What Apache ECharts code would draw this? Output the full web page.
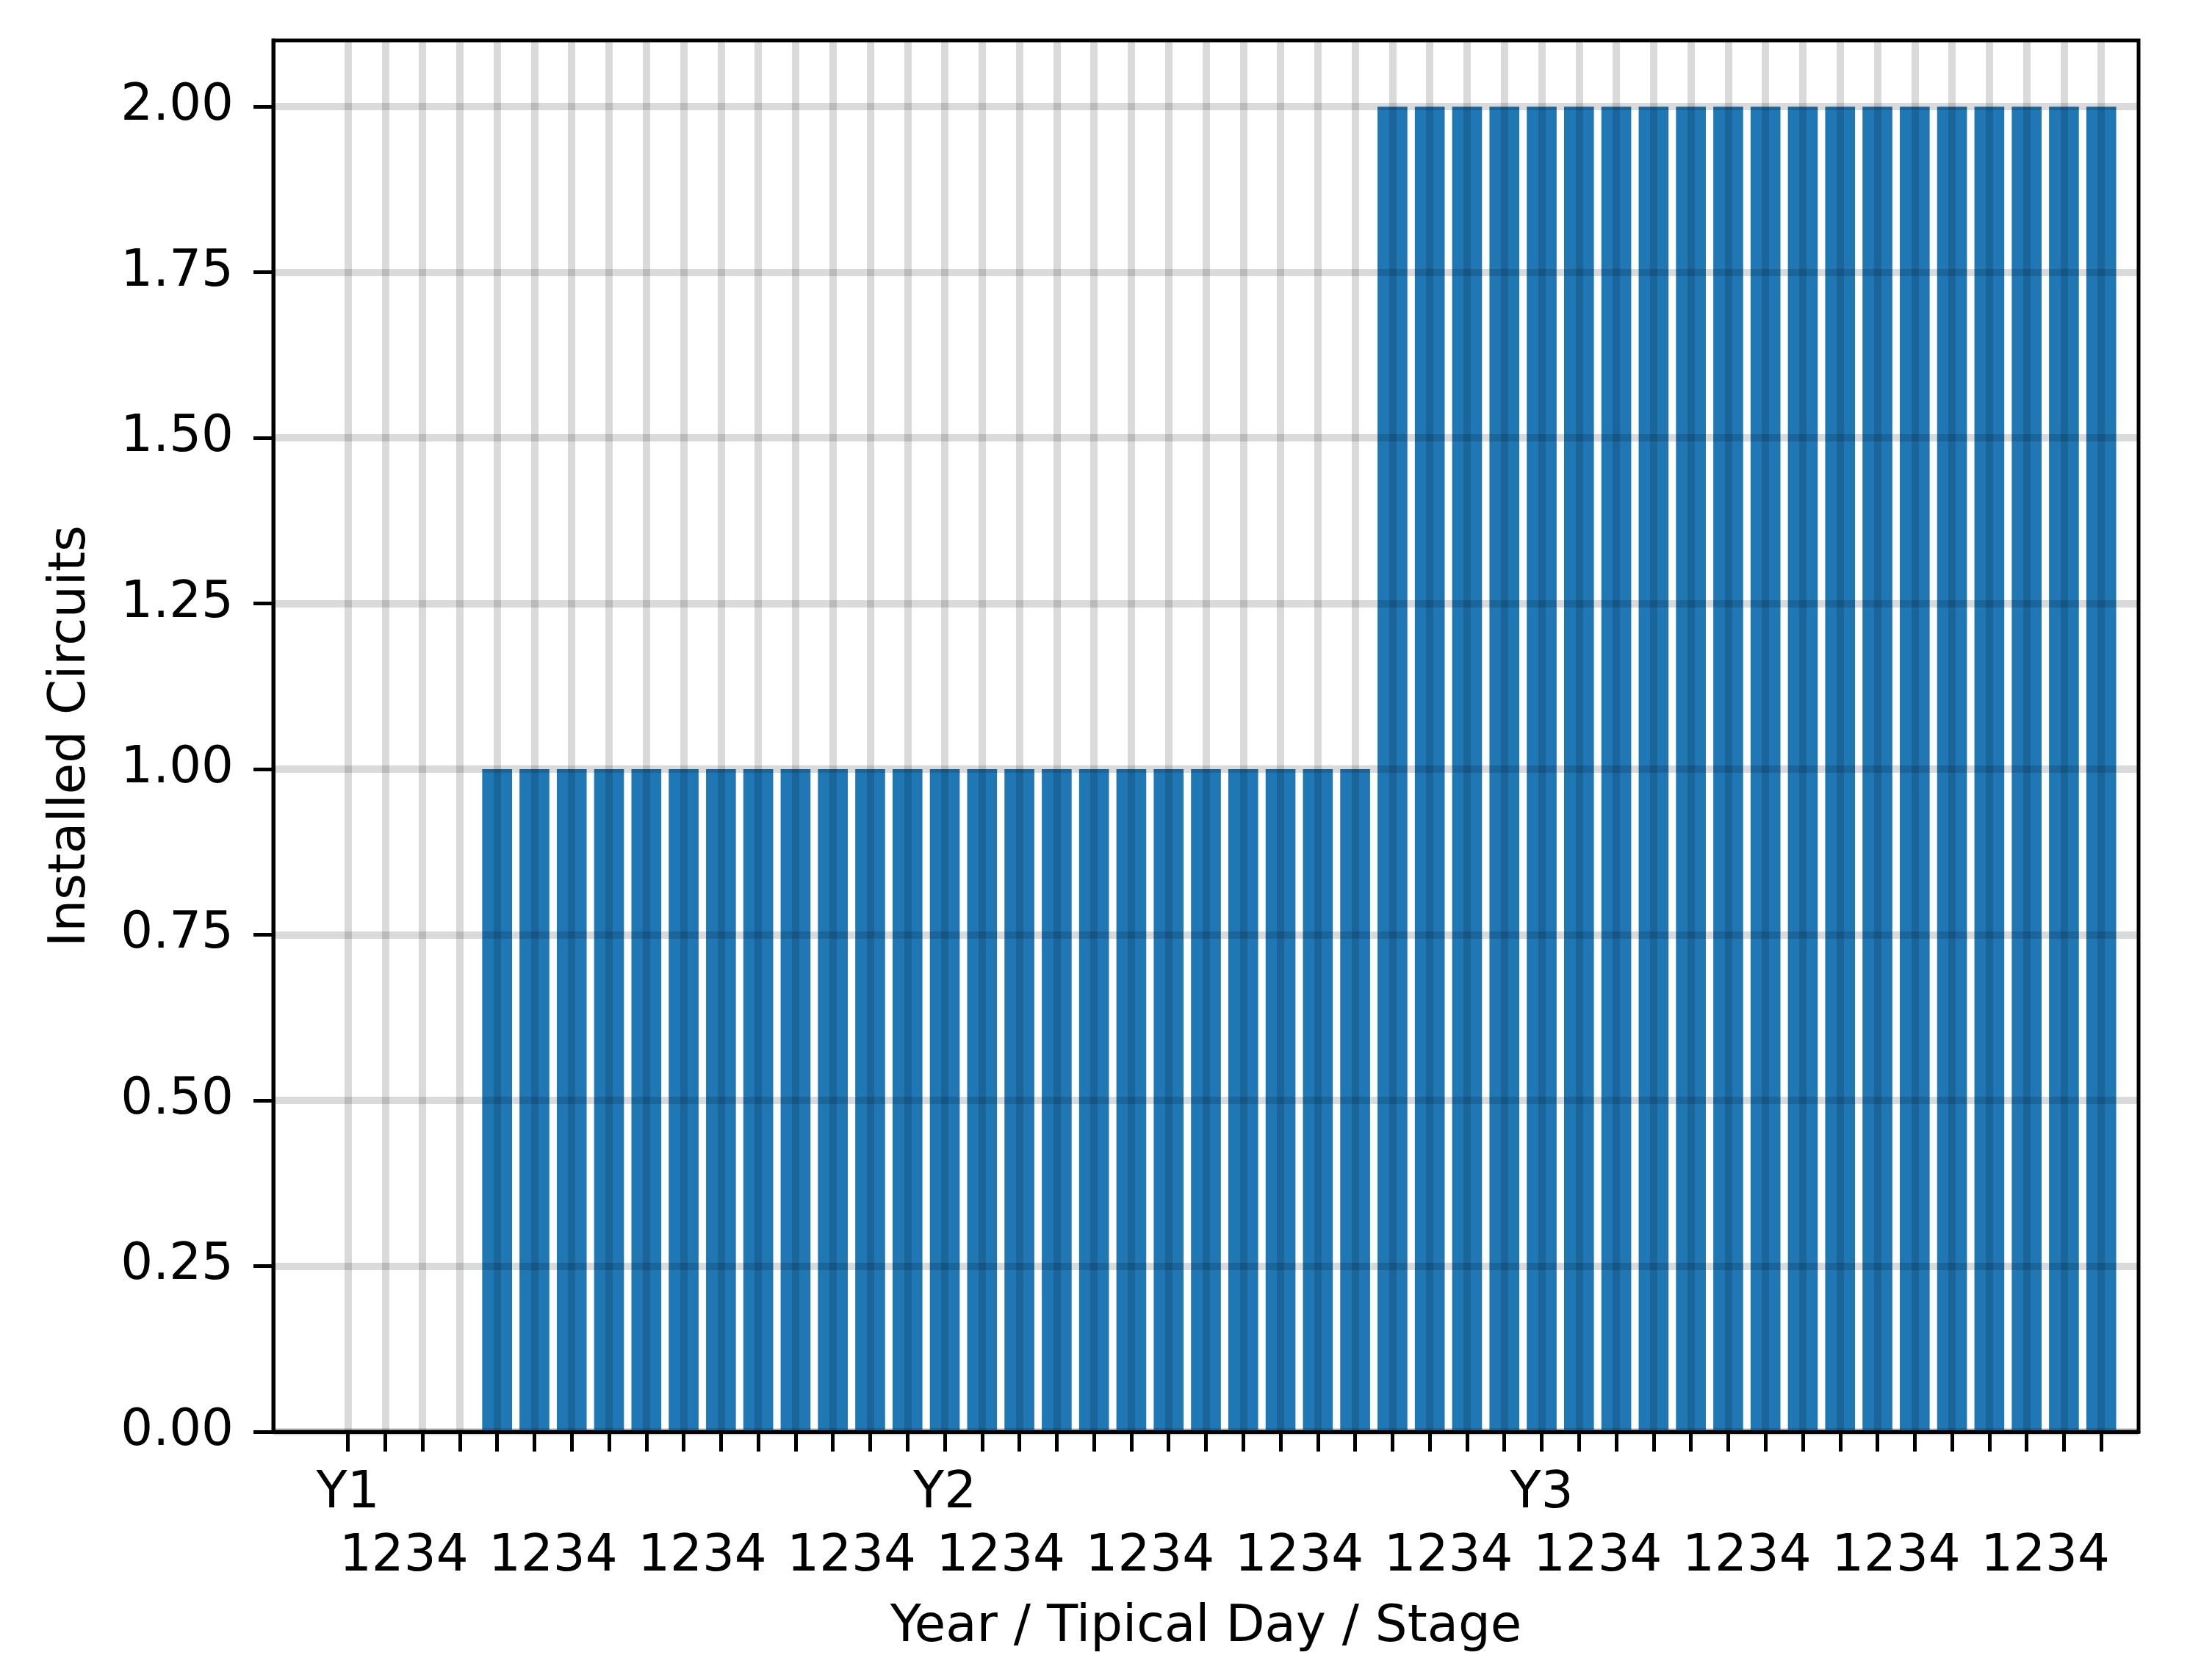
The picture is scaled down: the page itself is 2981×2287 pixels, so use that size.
<!DOCTYPE html>
<html><head><meta charset="utf-8">
<script src="https://cdn.jsdelivr.net/npm/echarts@6/dist/echarts.min.js"></script>
<style>html,body{margin:0;padding:0;background:#fff}#c{width:2981px;height:2287px}</style>
</head><body><div id="c"></div>
<script>
const years = ['Y1', 'Y2', 'Y3'];
const typicalDays = ['1', '2', '3', '4'];
const stages = ['1', '2', '3', '4'];
const installedCircuits = [
  0, 0, 0, 0,  1, 1, 1, 1,  1, 1, 1, 1,  1, 1, 1, 1,
  1, 1, 1, 1,  1, 1, 1, 1,  1, 1, 1, 1,  2, 2, 2, 2,
  2, 2, 2, 2,  2, 2, 2, 2,  2, 2, 2, 2,  2, 2, 2, 2
];
const yTicks = [0, 0.25, 0.5, 0.75, 1.0, 1.25, 1.5, 1.75, 2.0];
const yMax = 2.1;
const xTitle = 'Year / Tipical Day / Stage';
const yTitle = 'Installed Circuits';

// build categories: year / day / stage
const categories = [];
years.forEach(y => typicalDays.forEach(d => stages.forEach(s => categories.push(y + '/' + d + '/' + s))));
const perYear = typicalDays.length * stages.length;
const PAD_L = 2, PAD_R = 1;
const axisCats = [];
for (let i = 0; i < PAD_L; i++) axisCats.push('padL' + i);
categories.forEach(c => axisCats.push(c));
for (let i = 0; i < PAD_R; i++) axisCats.push('padR' + i);
const barData = axisCats.map((c, i) => {
  const k = i - PAD_L;
  return (k >= 0 && k < categories.length) ? installedCircuits[k] : '-';
});
// band axis for "1234" group labels (bands centred between ticks)
const nBands = axisCats.length - 1;
const stageText = stages.join('');
const bandCats = [];
for (let j = 0; j < nBands; j++) bandCats.push('b' + j);
const isGroupMid = j => {
  const pos = j - PAD_L + 0.5;
  const k = pos - (stages.length - 1) / 2;
  return k >= 0 && k < categories.length && Math.abs(k % stages.length) < 1e-9;
};

const W = 2981, H = 2287;
const gridL = 372, gridR = 70, gridT = 55, gridB = 338;
const unit = (W - gridL - gridR) / nBands;
const FONT = 'DejaVu Sans';
const FS = 69;
const tickShown = i => { const k = i - PAD_L; return k >= 0 && k < categories.length; };

const chart = echarts.init(document.getElementById('c'), null, {renderer: 'canvas'});
chart.setOption({
  animation: false,
  backgroundColor: '#ffffff',
  grid: {left: gridL, right: gridR, top: gridT, bottom: gridB, show: true,
         borderColor: '#000', borderWidth: 5, backgroundColor: 'transparent'},
  xAxis: [{
    type: 'category', data: axisCats, boundaryGap: false, position: 'bottom', z: 5,
    axisLine: {show: true, lineStyle: {color: '#000', width: 5}},
    axisTick: {show: true, interval: (i) => tickShown(i), length: 27, lineStyle: {color: '#000', width: 5}},
    splitLine: {show: true, interval: (i) => tickShown(i), lineStyle: {color: 'rgba(0,0,0,0.145)', width: 10}},
    axisLabel: {
      interval: 0, margin: 51, fontFamily: FONT, fontSize: FS, color: '#000',
      formatter: (v, i) => { const k = i - PAD_L; return (k >= 0 && k < categories.length && k % perYear === 0) ? years[k / perYear] : ''; }
    }
  }, {
    type: 'category', data: bandCats, boundaryGap: true, position: 'bottom', z: 5,
    axisLine: {show: false}, axisTick: {show: false}, splitLine: {show: false},
    axisLabel: {interval: 0, margin: 137, fontFamily: FONT, fontSize: FS, color: '#000',
      formatter: (v, i) => isGroupMid(i) ? stageText : ''},
    name: xTitle, nameLocation: 'middle', nameGap: 233,
    nameTextStyle: {fontFamily: FONT, fontSize: FS, color: '#000', verticalAlign: 'top'}
  }],
  yAxis: {
    type: 'value', min: 0, max: yMax, z: 5,
    axisLine: {show: true, lineStyle: {color: '#000', width: 5}},
    axisTick: {show: true, customValues: yTicks, length: 27, lineStyle: {color: '#000', width: 5}},
    splitLine: {show: true, lineStyle: {color: 'rgba(0,0,0,0.145)', width: 10}},
    axisLabel: {customValues: yTicks, margin: 54, fontFamily: FONT, fontSize: FS, color: '#000',
      formatter: v => v.toFixed(2)},
    interval: 0.25,
    name: yTitle, nameLocation: 'middle', nameGap: 240, nameRotate: 90,
    nameTextStyle: {fontFamily: FONT, fontSize: FS, color: '#000'}
  },
  series: [{
    type: 'bar', xAxisIndex: 0, data: barData, barWidth: unit * 0.8, z: 2,
    itemStyle: {color: '#1f77b4'}
  }]
});
</script></body></html>
